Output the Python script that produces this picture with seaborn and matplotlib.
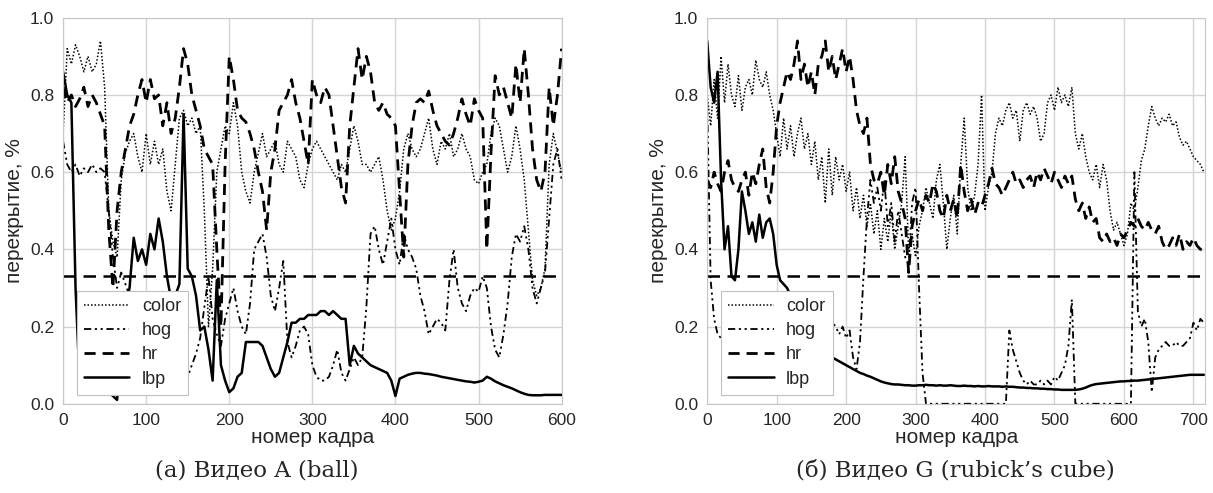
import numpy as np
import pandas as pd
import matplotlib
matplotlib.use("Agg")
import matplotlib.pyplot as plt
import seaborn as sns

# --- данные: перекрытие по кадрам (шаг 5 кадров) ---
frames_a = np.arange(0, 601, 5)
frames_g = np.arange(0, 716, 5)

color_a = [0.70, 0.92, 0.88, 0.93, 0.90, 0.86, 0.90, 0.86, 0.88, 0.94, 0.82, 0.50, 0.42,
           0.38, 0.58, 0.65, 0.68, 0.70, 0.64, 0.60, 0.70, 0.62, 0.68, 0.62, 0.66,
           0.55, 0.50, 0.62, 0.74, 0.76, 0.72, 0.74, 0.70, 0.72, 0.50, 0.20, 0.35,
           0.60, 0.66, 0.72, 0.70, 0.78, 0.72, 0.60, 0.55, 0.52, 0.60, 0.65, 0.70,
           0.64, 0.66, 0.68, 0.62, 0.60, 0.68, 0.66, 0.64, 0.58, 0.56, 0.62, 0.66,
           0.68, 0.66, 0.64, 0.62, 0.60, 0.58, 0.62, 0.60, 0.66, 0.72, 0.68, 0.62,
           0.62, 0.60, 0.62, 0.64, 0.58, 0.50, 0.45, 0.48, 0.55, 0.66, 0.70, 0.66,
           0.64, 0.66, 0.70, 0.74, 0.66, 0.62, 0.68, 0.66, 0.70, 0.64, 0.66, 0.70,
           0.66, 0.64, 0.58, 0.57, 0.60, 0.62, 0.70, 0.74, 0.72, 0.66, 0.60, 0.64,
           0.72, 0.66, 0.58, 0.45, 0.32, 0.28, 0.30, 0.35, 0.62, 0.70, 0.65, 0.60]
hog_a = [0.68, 0.62, 0.60, 0.62, 0.59, 0.61, 0.60, 0.62, 0.60, 0.61, 0.60, 0.50, 0.38,
         0.30, 0.34, 0.31, 0.28, 0.24, 0.20, 0.17, 0.14, 0.12, 0.10, 0.09, 0.12,
         0.15, 0.13, 0.09, 0.06, 0.05, 0.07, 0.10, 0.13, 0.17, 0.25, 0.33, 0.22,
         0.18, 0.15, 0.22, 0.26, 0.30, 0.24, 0.20, 0.18, 0.26, 0.40, 0.42, 0.44,
         0.38, 0.28, 0.24, 0.30, 0.37, 0.16, 0.12, 0.15, 0.19, 0.20, 0.18, 0.10,
         0.07, 0.06, 0.06, 0.07, 0.10, 0.14, 0.08, 0.06, 0.09, 0.12, 0.10, 0.12,
         0.25, 0.44, 0.46, 0.40, 0.36, 0.42, 0.48, 0.40, 0.36, 0.44, 0.40, 0.38,
         0.35, 0.28, 0.24, 0.18, 0.20, 0.22, 0.21, 0.19, 0.32, 0.40, 0.30, 0.26,
         0.24, 0.28, 0.30, 0.29, 0.33, 0.30, 0.20, 0.14, 0.12, 0.18, 0.26, 0.38,
         0.44, 0.42, 0.46, 0.40, 0.30, 0.26, 0.30, 0.34, 0.48, 0.62, 0.66, 0.58]
hr_a = [0.82, 0.78, 0.80, 0.77, 0.79, 0.82, 0.77, 0.80, 0.78, 0.75, 0.72, 0.45, 0.30,
        0.50, 0.60, 0.66, 0.72, 0.75, 0.80, 0.84, 0.78, 0.84, 0.79, 0.80, 0.72,
        0.78, 0.70, 0.74, 0.82, 0.92, 0.88, 0.80, 0.76, 0.72, 0.66, 0.64, 0.62,
        0.40, 0.20, 0.62, 0.90, 0.84, 0.76, 0.74, 0.73, 0.70, 0.66, 0.60, 0.55,
        0.45, 0.60, 0.66, 0.76, 0.78, 0.80, 0.84, 0.78, 0.74, 0.68, 0.62, 0.84,
        0.80, 0.78, 0.82, 0.80, 0.72, 0.64, 0.56, 0.52, 0.72, 0.82, 0.92, 0.84,
        0.90, 0.86, 0.78, 0.76, 0.78, 0.75, 0.74, 0.72, 0.55, 0.38, 0.62, 0.72,
        0.78, 0.79, 0.78, 0.81, 0.76, 0.72, 0.70, 0.68, 0.67, 0.70, 0.74, 0.79,
        0.75, 0.72, 0.79, 0.76, 0.74, 0.40, 0.65, 0.85, 0.80, 0.82, 0.78, 0.74,
        0.88, 0.78, 0.92, 0.80, 0.66, 0.58, 0.55, 0.60, 0.82, 0.72, 0.80, 0.92]
lbp_a = [0.86, 0.80, 0.78, 0.30, 0.05, 0.04, 0.05, 0.03, 0.04, 0.03, 0.04, 0.03, 0.02,
         0.01, 0.15, 0.25, 0.30, 0.43, 0.37, 0.40, 0.36, 0.44, 0.40, 0.48, 0.42,
         0.33, 0.27, 0.28, 0.31, 0.75, 0.35, 0.33, 0.28, 0.19, 0.20, 0.14, 0.06,
         0.32, 0.10, 0.06, 0.03, 0.04, 0.07, 0.08, 0.16, 0.16, 0.16, 0.16, 0.15,
         0.12, 0.09, 0.07, 0.08, 0.12, 0.16, 0.21, 0.21, 0.22, 0.22, 0.23, 0.23,
         0.23, 0.24, 0.24, 0.23, 0.24, 0.23, 0.22, 0.22, 0.10, 0.15, 0.13, 0.12,
         0.11, 0.10, 0.095, 0.09, 0.085, 0.08, 0.06, 0.02, 0.065, 0.07, 0.075, 0.078,
         0.08, 0.08, 0.078, 0.077, 0.075, 0.073, 0.07, 0.068, 0.066, 0.064, 0.062, 0.06,
         0.058, 0.057, 0.055, 0.057, 0.06, 0.07, 0.065, 0.058, 0.053, 0.048, 0.044, 0.04,
         0.035, 0.03, 0.026, 0.023, 0.022, 0.022, 0.022, 0.023, 0.023, 0.023, 0.023, 0.023]

color_g = [0.80, 0.72, 0.84, 0.74, 0.90, 0.78, 0.88, 0.80, 0.77, 0.85, 0.76, 0.82,
           0.84, 0.80, 0.89, 0.84, 0.82, 0.86, 0.80, 0.76, 0.70, 0.64, 0.74, 0.66,
           0.72, 0.64, 0.70, 0.74, 0.66, 0.70, 0.62, 0.68, 0.58, 0.64, 0.52, 0.66,
           0.54, 0.64, 0.58, 0.62, 0.55, 0.60, 0.50, 0.56, 0.48, 0.54, 0.46, 0.52,
           0.44, 0.50, 0.40, 0.48, 0.42, 0.50, 0.40, 0.46, 0.52, 0.64, 0.40, 0.44,
           0.38, 0.46, 0.50, 0.56, 0.52, 0.48, 0.58, 0.62, 0.52, 0.40, 0.48, 0.54,
           0.44, 0.62, 0.74, 0.56, 0.50, 0.54, 0.62, 0.80, 0.50, 0.56, 0.60, 0.70,
           0.74, 0.72, 0.76, 0.78, 0.74, 0.76, 0.68, 0.76, 0.78, 0.75, 0.77, 0.74,
           0.68, 0.70, 0.78, 0.80, 0.76, 0.82, 0.78, 0.80, 0.77, 0.82, 0.70, 0.66,
           0.70, 0.64, 0.60, 0.58, 0.62, 0.56, 0.62, 0.58, 0.50, 0.45, 0.47, 0.44,
           0.41, 0.44, 0.52, 0.50, 0.56, 0.63, 0.66, 0.72, 0.77, 0.74, 0.72, 0.74,
           0.73, 0.75, 0.72, 0.73, 0.69, 0.67, 0.68, 0.66, 0.64, 0.63, 0.62, 0.60]
hog_g = [0.78, 0.32, 0.22, 0.18, 0.17, 0.16, 0.15, 0.16, 0.15, 0.14, 0.15, 0.14,
         0.13, 0.14, 0.13, 0.12, 0.13, 0.12, 0.11, 0.12, 0.11, 0.12, 0.13, 0.12,
         0.11, 0.12, 0.14, 0.12, 0.10, 0.13, 0.12, 0.09, 0.14, 0.08, 0.12, 0.17,
         0.21, 0.20, 0.18, 0.20, 0.17, 0.19, 0.12, 0.09, 0.16, 0.33, 0.48, 0.58,
         0.52, 0.56, 0.50, 0.58, 0.46, 0.52, 0.42, 0.50, 0.44, 0.38, 0.36, 0.52,
         0.56, 0.30, 0.08, 0.0, 0.0, 0.0, 0.0, 0.0, 0.0, 0.0, 0.0, 0.0,
         0.0, 0.0, 0.0, 0.0, 0.0, 0.0, 0.0, 0.0, 0.0, 0.0, 0.0, 0.0,
         0.0, 0.0, 0.0, 0.19, 0.14, 0.11, 0.08, 0.06, 0.05, 0.06, 0.05, 0.05,
         0.06, 0.05, 0.06, 0.05, 0.07, 0.06, 0.08, 0.10, 0.15, 0.27, 0.0, 0.0,
         0.0, 0.0, 0.0, 0.0, 0.0, 0.0, 0.0, 0.0, 0.0, 0.0, 0.0, 0.0,
         0.0, 0.0, 0.0, 0.60, 0.24, 0.20, 0.22, 0.16, 0.03, 0.12, 0.14, 0.15,
         0.16, 0.15, 0.15, 0.16, 0.15, 0.15, 0.16, 0.17, 0.21, 0.19, 0.22, 0.21]
hr_g = [0.58, 0.56, 0.60, 0.57, 0.55, 0.60, 0.63, 0.58, 0.56, 0.55, 0.58, 0.60,
        0.54, 0.60, 0.57, 0.62, 0.66, 0.56, 0.52, 0.60, 0.72, 0.78, 0.82, 0.86,
        0.84, 0.88, 0.94, 0.84, 0.88, 0.82, 0.86, 0.80, 0.88, 0.90, 0.94, 0.86,
        0.90, 0.84, 0.88, 0.92, 0.86, 0.90, 0.84, 0.76, 0.72, 0.70, 0.74, 0.62,
        0.58, 0.57, 0.60, 0.54, 0.62, 0.57, 0.64, 0.55, 0.52, 0.48, 0.34, 0.46,
        0.50, 0.53, 0.50, 0.54, 0.52, 0.57, 0.55, 0.50, 0.48, 0.54, 0.50, 0.53,
        0.48, 0.62, 0.55, 0.50, 0.53, 0.49, 0.52, 0.51, 0.54, 0.57, 0.61, 0.57,
        0.56, 0.54, 0.56, 0.58, 0.60, 0.57, 0.58, 0.56, 0.58, 0.59, 0.56, 0.60,
        0.58, 0.61, 0.59, 0.57, 0.60, 0.58, 0.56, 0.59, 0.57, 0.59, 0.53, 0.50,
        0.52, 0.48, 0.51, 0.47, 0.48, 0.43, 0.42, 0.44, 0.42, 0.43, 0.41, 0.44,
        0.43, 0.45, 0.47, 0.46, 0.48, 0.46, 0.45, 0.47, 0.45, 0.44, 0.46, 0.42,
        0.40, 0.41, 0.43, 0.41, 0.44, 0.40, 0.42, 0.41, 0.43, 0.41, 0.40, 0.40]
lbp_g = [0.94, 0.82, 0.78, 0.86, 0.58, 0.40, 0.46, 0.33, 0.32, 0.40, 0.55, 0.50,
         0.44, 0.47, 0.42, 0.49, 0.43, 0.47, 0.48, 0.44, 0.36, 0.32, 0.31, 0.30,
         0.28, 0.25, 0.23, 0.21, 0.20, 0.19, 0.18, 0.17, 0.16, 0.15, 0.14, 0.13,
         0.12, 0.115, 0.11, 0.105, 0.10, 0.095, 0.09, 0.085, 0.08, 0.077, 0.073, 0.07,
         0.066, 0.062, 0.058, 0.055, 0.053, 0.051, 0.05, 0.05, 0.049, 0.048, 0.048, 0.047,
         0.047, 0.048, 0.048, 0.049, 0.048, 0.048, 0.047, 0.048, 0.047, 0.047, 0.048, 0.047,
         0.046, 0.046, 0.047, 0.046, 0.046, 0.045, 0.046, 0.045, 0.045, 0.046, 0.045, 0.045,
         0.045, 0.044, 0.045, 0.044, 0.044, 0.043, 0.042, 0.042, 0.041, 0.041, 0.040, 0.040,
         0.039, 0.039, 0.038, 0.038, 0.037, 0.037, 0.036, 0.036, 0.036, 0.036, 0.036, 0.037,
         0.039, 0.042, 0.046, 0.049, 0.051, 0.052, 0.053, 0.054, 0.055, 0.056, 0.057, 0.058,
         0.058, 0.059, 0.059, 0.060, 0.060, 0.061, 0.062, 0.063, 0.064, 0.065, 0.066, 0.067,
         0.068, 0.069, 0.070, 0.071, 0.072, 0.073, 0.074, 0.075, 0.075, 0.075, 0.075, 0.075]

threshold = 0.33
series_names = ["color", "hog", "hr", "lbp"]
captions = ["(a) Видео A (ball)", "(б) Видео G (rubick’s cube)"]

# стиль линий для каждого признака
line_styles = {
    "color": dict(linestyle=(0, (1, 1.3)), lw=1.1),
    "hog": dict(linestyle=(0, (4, 2, 1.2, 2, 1.2, 2)), lw=1.3),
    "hr": dict(linestyle=(0, (4, 2.5)), lw=2.0),
    "lbp": dict(linestyle="-", lw=1.8),
}

sns.set_style("whitegrid")
plt.rcParams["font.family"] = ["Liberation Sans", "DejaVu Sans"]


def draw_panel(ax, frames, values, xmax, xticks):
    for name, vals in zip(series_names, values):
        sns.lineplot(x=frames, y=vals, ax=ax, color="black", label=name,
                     **line_styles[name])
    ax.axhline(threshold, color="black", linestyle=(0, (5, 3)), lw=1.8)
    ax.set_xlim(0, xmax)
    ax.set_ylim(0, 1.0)
    ax.set_xticks(xticks)
    ax.set_yticks([0.0, 0.2, 0.4, 0.6, 0.8, 1.0])
    ax.set_yticklabels(["0.0", "0.2", "0.4", "0.6", "0.8", "1.0"])
    ax.tick_params(labelsize=12.5, pad=3)
    ax.set_xlabel("номер кадра", fontsize=15, labelpad=0)
    ax.set_ylabel("перекрытие, %", fontsize=15, labelpad=4)
    for s in ax.spines.values():
        s.set_color("#c8c8c8")
    ax.grid(color="#d4d4d4", lw=1)
    leg = ax.legend(loc="lower left", bbox_to_anchor=(0.01, 0.0), fontsize=13,
                    fancybox=False, framealpha=1, edgecolor="#c0c0c0",
                    handlelength=2.5, labelspacing=0.4, borderpad=0.4,
                    handletextpad=0.7)
    leg.get_frame().set_linewidth(0.8)


fig = plt.figure(figsize=(12.13, 4.93), dpi=100)
ax_a = fig.add_axes([0.052, 0.181, 0.411, 0.783])
ax_g = fig.add_axes([0.583, 0.181, 0.4106, 0.783])

draw_panel(ax_a, frames_a, [color_a, hog_a, hr_a, lbp_a], 600, range(0, 601, 100))
draw_panel(ax_g, frames_g, [color_g, hog_g, hr_g, lbp_g], 717, range(0, 701, 100))

fig.text(0.2116, 0.045, captions[0], ha="center", va="center",
         fontsize=16.5, family=["DejaVu Serif"])
fig.text(0.788, 0.045, captions[1], ha="center", va="center",
         fontsize=16.5, family=["DejaVu Serif"])

fig.savefig("out.png", dpi=100)
